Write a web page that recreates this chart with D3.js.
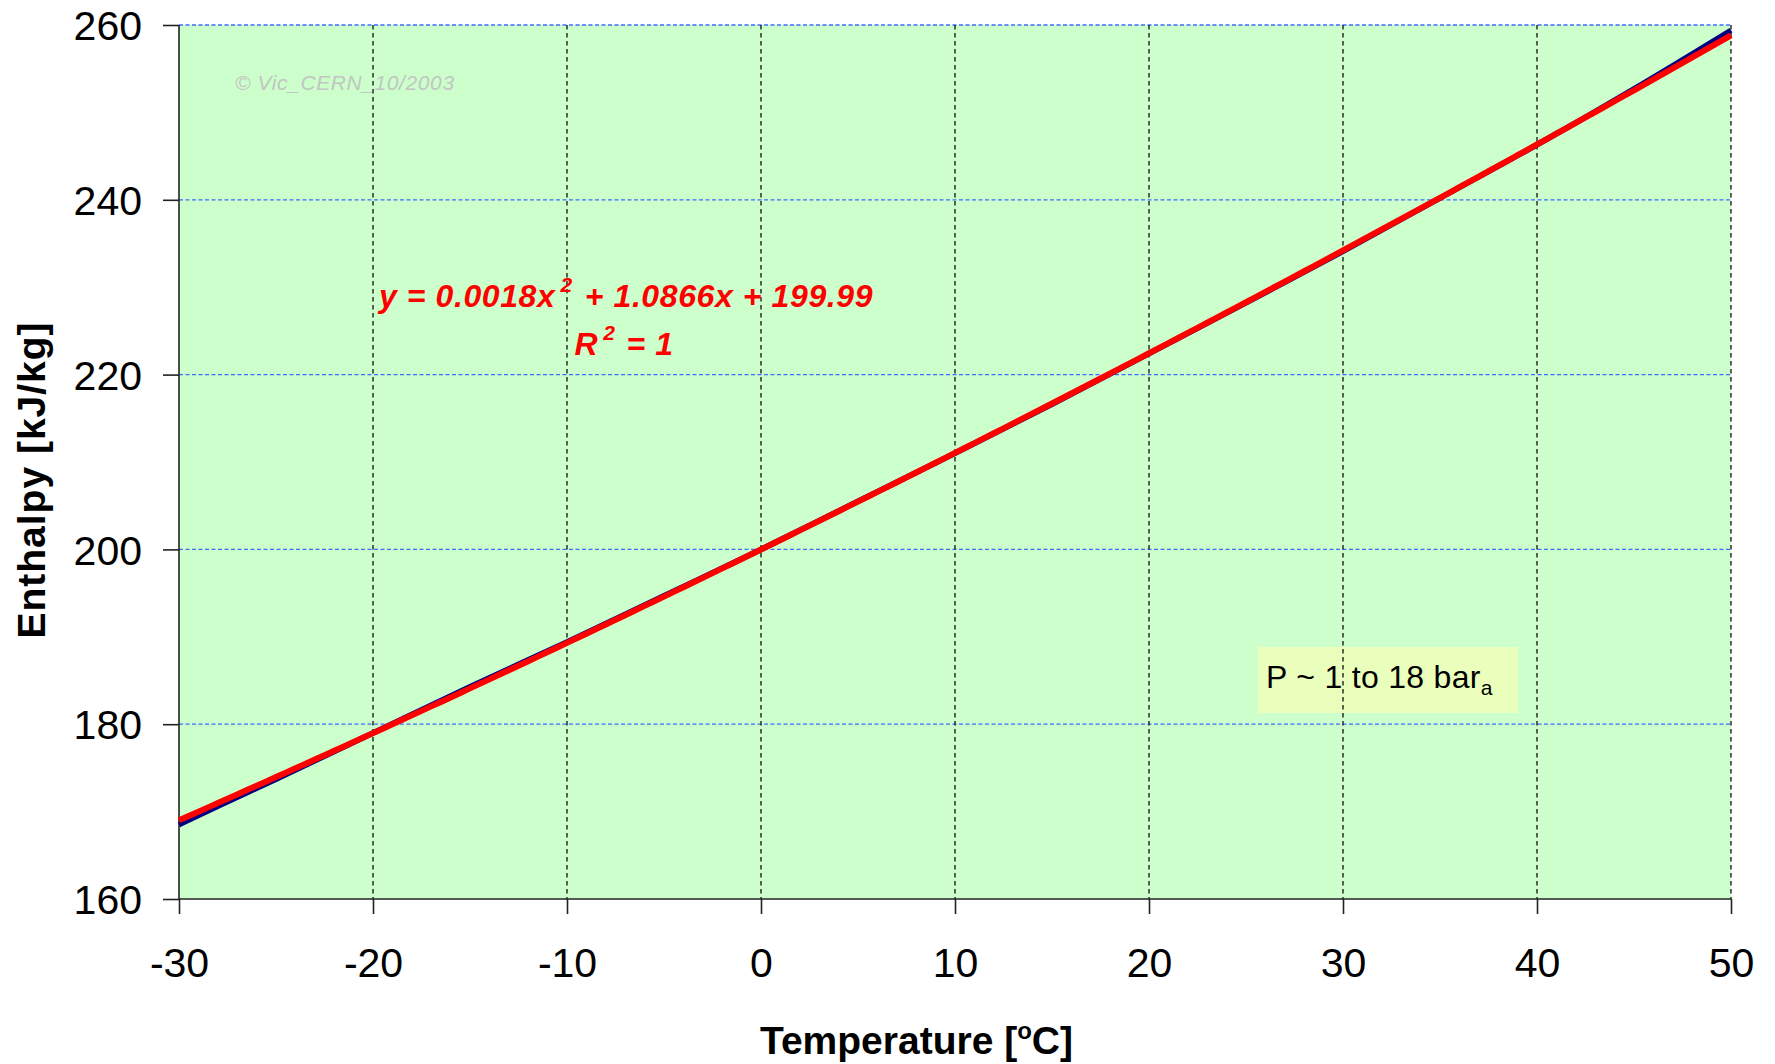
<!DOCTYPE html>
<html>
<head>
<meta charset="utf-8">
<script src="https://cdn.jsdelivr.net/npm/d3@7"></script>
<style>
  html, body { margin: 0; padding: 0; background: #ffffff; }
  svg { display: block; font-family: "Liberation Sans", Arial, sans-serif; }
</style>
</head>
<body>
<svg id="chart" width="1775" height="1064"></svg>
<script>
// Enthalpy vs temperature, P ~ 1 to 18 bar(a)
const temperatures = [-30, -28, -25, -20, -15, -10, -5, 0, 5, 10, 15, 20, 25, 30, 35, 40, 45, 50];
const enthalpies   = [168.5, 170.6, 173.7, 179.0, 184.3, 189.4, 194.7, 200.0, 205.5, 211.0, 216.6, 222.4, 228.2, 234.1, 240.2, 246.3, 252.7, 259.4];

// Polynomial trendline coefficients (a2, a1, a0) as printed on the chart
const trendCoefs = [0.0018, 1.0866, 199.99];

const xTicks = [-30, -20, -10, 0, 10, 20, 30, 40, 50];
const yTicks = [160, 180, 200, 220, 240, 260];

const svg = d3.select("#chart");
const plot = { left: 179, right: 1731, top: 25, bottom: 899 };

const x = d3.scaleLinear().domain([-30, 50]).range([plot.left, plot.right]);
const y = d3.scaleLinear().domain([160, 260]).range([plot.bottom, plot.top]);

// plot background
svg.append("rect")
  .attr("x", plot.left).attr("y", plot.top)
  .attr("width", plot.right - plot.left).attr("height", plot.bottom - plot.top)
  .attr("fill", "#ccffcc");

// watermark
svg.append("text")
  .attr("x", 235).attr("y", 90)
  .attr("font-size", 21).attr("font-style", "italic")
  .attr("letter-spacing", 0.6)
  .attr("fill", "#c2c6c2")
  .text("© Vic_CERN_10/2003");

// pressure note box (semi-transparent so the grid shows through)
svg.append("rect")
  .attr("x", 1258).attr("y", 647).attr("width", 260).attr("height", 66)
  .attr("fill", "#ffffb0").attr("fill-opacity", 0.6);

// horizontal grid
svg.append("g")
  .selectAll("line")
  .data(yTicks.filter(d => d > 160))
  .join("line")
  .attr("x1", plot.left).attr("x2", plot.right)
  .attr("y1", d => y(d)).attr("y2", d => y(d))
  .attr("stroke", "#3f6bff").attr("stroke-width", 1.3)
  .attr("stroke-dasharray", "4,2.5");

// vertical grid
svg.append("g")
  .selectAll("line")
  .data(xTicks.filter(d => d > -30))
  .join("line")
  .attr("x1", d => x(d)).attr("x2", d => x(d))
  .attr("y1", plot.top).attr("y2", plot.bottom)
  .attr("stroke", "#111").attr("stroke-width", 1.3)
  .attr("stroke-dasharray", "4.5,3.5");

// axes (plain hyphen for negative numbers)
const fmt = d => String(d);
const xAxis = d3.axisBottom(x).tickValues(xTicks).tickSize(15).tickPadding(34).tickFormat(fmt);
const yAxis = d3.axisLeft(y).tickValues(yTicks).tickSize(16).tickPadding(21).tickFormat(fmt);

const gx = svg.append("g").attr("transform", `translate(0,${plot.bottom})`).call(xAxis);
const gy = svg.append("g").attr("transform", `translate(${plot.left},0)`).call(yAxis);

[gx, gy].forEach(g => {
  g.select(".domain").attr("stroke", "#222").attr("stroke-width", 1.6);
  g.selectAll(".tick line").attr("stroke", "#222").attr("stroke-width", 1.6);
  g.selectAll(".tick text")
    .attr("fill", "#000")
    .attr("font-size", 41)
    .attr("font-family", "'Liberation Sans', Arial, sans-serif");
});
gx.selectAll(".tick text").attr("dy", "0.71em");
gy.selectAll(".tick text").attr("dy", "0.36em");
gy.select(".domain").attr("d", `M0,${plot.bottom}V${plot.top}`);
gx.select(".domain").attr("d", `M${plot.left},0H${plot.right}`);

// measured data
const dataPts = temperatures.map((t, i) => [t, enthalpies[i]]);
svg.append("path")
  .datum(dataPts)
  .attr("d", d3.line().x(d => x(d[0])).y(d => y(d[1])).curve(d3.curveMonotoneX))
  .attr("fill", "none").attr("stroke", "#000080").attr("stroke-width", 5.5);

// trendline from the fitted coefficients
const trend = (t) => trendCoefs[0] * t * t + trendCoefs[1] * t + trendCoefs[2];
const trendPts = d3.range(-30, 50.01, 0.5).map(t => [t, trend(t)]);
svg.append("path")
  .datum(trendPts)
  .attr("d", d3.line().x(d => x(d[0])).y(d => y(d[1])))
  .attr("fill", "none").attr("stroke", "#ff0000").attr("stroke-width", 6);

// equation label
const eq = svg.append("text")
  .attr("x", 626).attr("y", 307)
  .attr("text-anchor", "middle")
  .attr("font-size", 32).attr("font-weight", "bold").attr("font-style", "italic")
  .attr("letter-spacing", 0.6)
  .attr("fill", "#ff0000");
eq.append("tspan").text("y = 0.0018x");
eq.append("tspan").attr("font-size", 21).attr("dy", -15).attr("dx", 5).text("2");
eq.append("tspan").attr("dy", 15).attr("dx", 12).text("+ 1.0866x + 199.99");

const r2 = svg.append("text")
  .attr("x", 624).attr("y", 355)
  .attr("text-anchor", "middle")
  .attr("font-size", 32).attr("font-weight", "bold").attr("font-style", "italic")
  .attr("letter-spacing", 0.6)
  .attr("fill", "#ff0000");
r2.append("tspan").text("R");
r2.append("tspan").attr("font-size", 21).attr("dy", -15).attr("dx", 5).text("2");
r2.append("tspan").attr("dy", 15).attr("dx", 11).text("= 1");

// pressure note
const note = svg.append("text")
  .attr("x", 1266).attr("y", 688)
  .attr("font-size", 32).attr("letter-spacing", 0.3).attr("fill", "#000");
note.append("tspan").text("P ~ 1 to 18 bar");
note.append("tspan").attr("font-size", 21).attr("dy", 7).text("a");

// axis titles
const xt = svg.append("text")
  .attr("x", 760).attr("y", 1054)
  .attr("font-size", 39).attr("font-weight", "bold").attr("fill", "#000");
xt.append("tspan").text("Temperature [");
xt.append("tspan").attr("font-size", 24).attr("dy", -15).text("o");
xt.append("tspan").attr("dy", 15).text("C]");

svg.append("text")
  .attr("transform", "translate(45,480) rotate(-90)")
  .attr("text-anchor", "middle")
  .attr("font-size", 39).attr("font-weight", "bold").attr("letter-spacing", 1)
  .attr("fill", "#000")
  .text("Enthalpy [kJ/kg]");
</script>
</body>
</html>
